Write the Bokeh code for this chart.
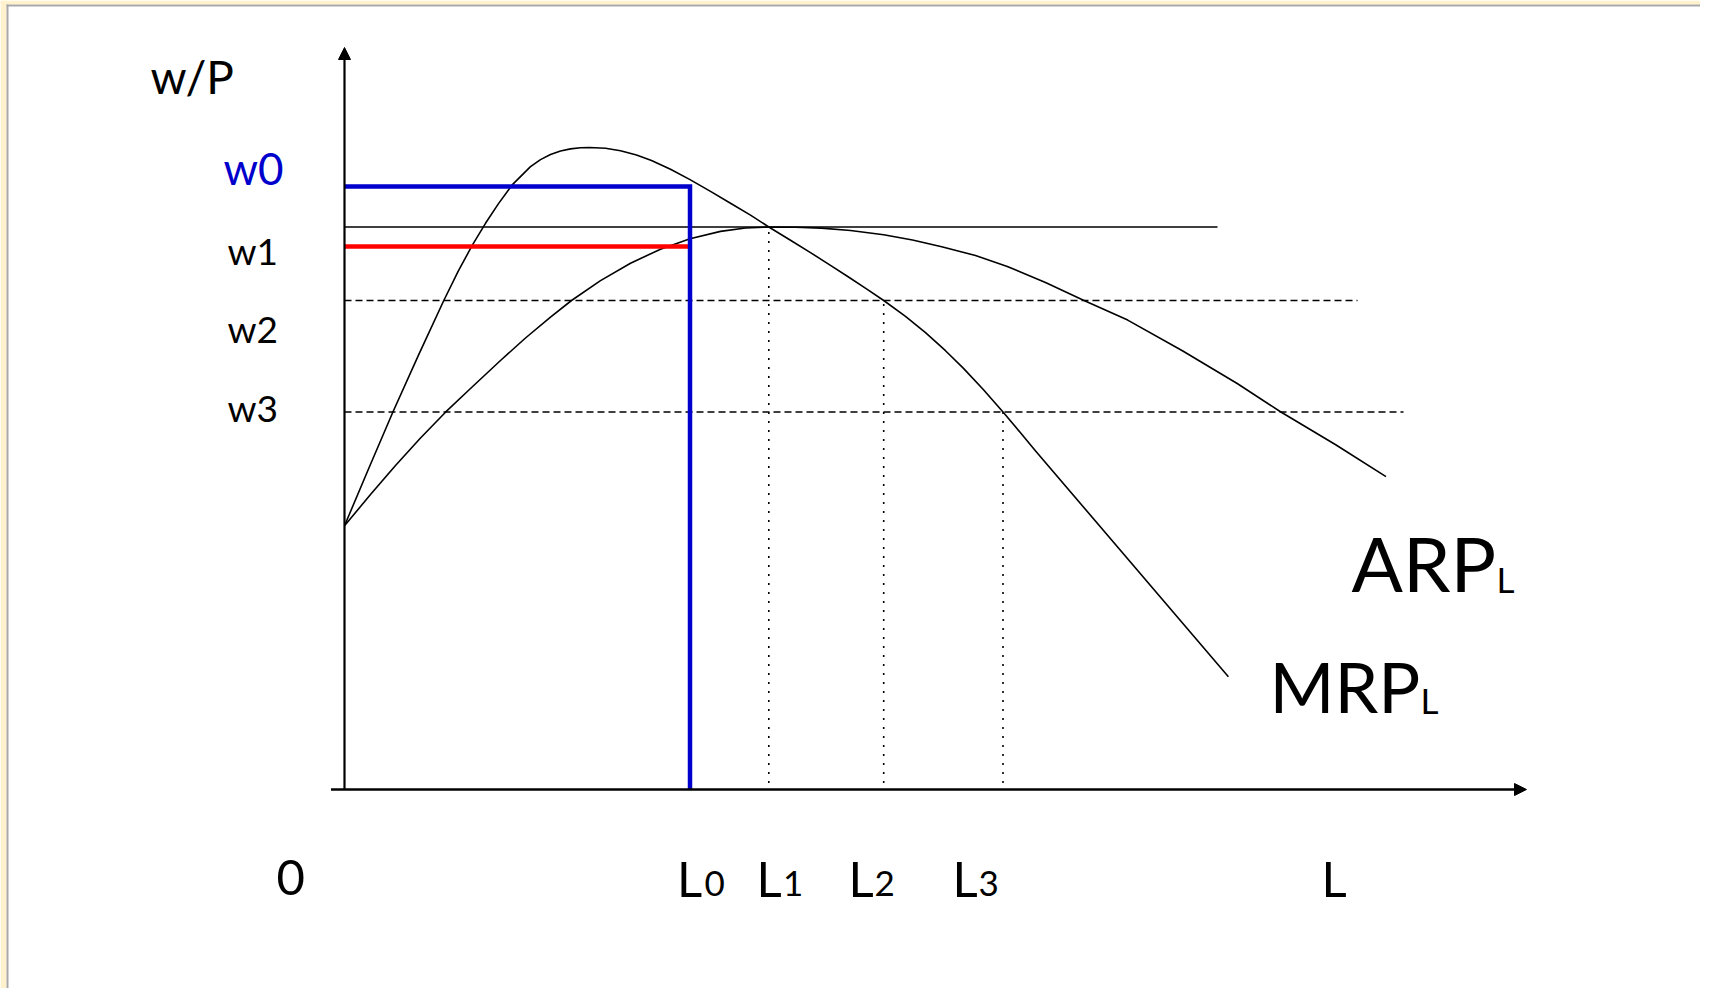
from bokeh.plotting import figure
from bokeh.models import Arrow, NormalHead, Range1d
from bokeh.core.properties import value
from bokeh.embed import file_html
from bokeh.resources import INLINE

# ---------------- data (L units horizontally, w/P units vertically) ---------------
# Marginal revenue product of labour (MRP_L)
mrp_L = [0.000, 0.240, 0.483, 0.740, 0.993, 1.140, 1.277, 1.410, 1.540, 1.677, 1.860, 1.960,
         2.060, 2.160, 2.260, 2.360, 2.450, 2.610, 2.760, 2.920, 3.070, 3.260, 3.455, 3.660,
         3.860, 4.060, 4.243, 4.460, 4.660, 4.860, 5.040, 5.220, 5.392, 5.610, 5.810, 6.010,
         6.190, 6.390, 6.585, 6.760, 6.913, 8.839]
mrp_w = [2.637, 3.205, 3.773, 4.343, 4.890, 5.188, 5.441, 5.662, 5.859, 6.046, 6.229, 6.299,
         6.350, 6.385, 6.406, 6.417, 6.420, 6.412, 6.388, 6.345, 6.289, 6.202, 6.099, 5.981,
         5.863, 5.744, 5.625, 5.493, 5.369, 5.241, 5.125, 5.006, 4.890, 4.732, 4.568, 4.388,
         4.211, 3.998, 3.775, 3.567, 3.383, 1.127]

# Average revenue product of labour (ARP_L)
arp_L = [0.000, 0.260, 0.510, 0.760, 1.010, 1.260, 1.560, 1.810, 2.060, 2.270, 2.560, 2.860,
         3.160, 3.455, 3.760, 4.010, 4.243, 4.510, 4.768, 5.060, 5.392, 5.680, 5.972, 6.310,
         6.628, 7.010, 7.395, 7.832, 8.379, 8.927, 9.364, 9.912, 10.415]
arp_w = [2.637, 2.950, 3.240, 3.515, 3.773, 4.010, 4.290, 4.515, 4.723, 4.890, 5.089, 5.263,
         5.403, 5.508, 5.581, 5.615, 5.625, 5.622, 5.614, 5.590, 5.548, 5.495, 5.428, 5.340,
         5.231, 5.070, 4.891, 4.694, 4.388, 4.060, 3.775, 3.447, 3.129]

# wage levels
w_labels = ["w0", "w1", "w2", "w3"]
w_levels = [6.03, 5.43, 4.89, 3.775]
w_peak = 5.625          # maximum of ARP_L (unlabelled solid line)

# labour quantities
L_names = ["L", "L", "L", "L"]
L_subs = ["0", "1", "2", "3"]
L_levels = [3.455, 4.243, 5.392, 6.585]

# line extents
peak_line_end = 8.73
w2_line_end = 10.13
w3_line_end = 10.59
x_axis_end = 11.82
y_axis_end = 7.42

# ---------------- figure ----------------
FONT = value("Lato")
X0, X1 = -3.44, 13.56
Y0, Y1 = -1.99, 7.89
p = figure(width=1700, height=988, x_range=Range1d(X0, X1), y_range=Range1d(Y0, Y1),
           output_backend="svg", toolbar_location=None,
           x_axis_location=None, y_axis_location=None, min_border=0)
p.grid.visible = False
p.outline_line_color = None
p.background_fill_color = "white"
p.border_fill_color = "white"

# slide frame: light yellow band with a gray edge on the left and top
p.quad(left=[X0, X0], right=[X0 + 0.06, X1], bottom=[Y0, Y1 - 0.04], top=[Y1, Y1],
       fill_color="#FFF2CC", line_color=None)
p.quad(left=[X0 + 0.06, X0 + 0.06], right=[X0 + 0.08, X1], bottom=[Y0, Y1 - 0.06],
       top=[Y1 - 0.04, Y1 - 0.04], fill_color="#A9A9A9", line_color=None)

# horizontal reference lines
p.line([0, peak_line_end], [w_peak, w_peak], line_color="black", line_width=1.4)
p.line([0, w2_line_end], [w_levels[2], w_levels[2]], line_color="black", line_width=1.4, line_dash="7 4")
p.line([0, w3_line_end], [w_levels[3], w_levels[3]], line_color="black", line_width=1.4, line_dash="7 4")

# dotted verticals at L1, L2, L3
dot_tops = [w_peak, w_levels[2], w_levels[3]]
for lx, top in zip(L_levels[1:], dot_tops):
    p.line([lx, lx], [0.065, top], line_color="black", line_width=1.6, line_dash="2 7")

# curves
p.line(arp_L, arp_w, line_color="black", line_width=1.6, line_join="round")
p.line(mrp_L, mrp_w, line_color="black", line_width=1.6, line_join="round")

# red w1 line and blue w0 / L0 lines
p.line([0, L_levels[0]], [w_levels[1], w_levels[1]], line_color="#FF0000", line_width=4.5)
p.line([0, L_levels[0], L_levels[0]], [w_levels[0], w_levels[0], 0], line_color="#0000CC",
       line_width=4.5, line_join="miter")

# axes with arrow heads
p.add_layout(Arrow(end=NormalHead(size=12, fill_color="black", line_color="black", line_width=1),
                   x_start=0, y_start=0, x_end=0, y_end=y_axis_end, line_width=2.2, line_color="black"))
p.add_layout(Arrow(end=NormalHead(size=12, fill_color="black", line_color="black", line_width=1),
                   x_start=-0.135, y_start=0, x_end=x_axis_end, y_end=0, line_width=2.6, line_color="black"))

# ---------------- text ----------------
BASE_FIX = 0.40  # em; compensates the svg renderer's baseline placement


def txt(xs, ys, s, size, color="black"):
    yy = [y + BASE_FIX * size / 100.0 for y in ys]
    p.text(x=xs, y=yy, text=s, text_font=FONT, text_font_size=f"{size}px", text_color=color,
           text_baseline="alphabetic", text_align="left")


txt([-1.94], [6.95], ["w/P"], 46)
txt([-1.21], [6.04], [w_labels[0]], 44, "#0000CC")
txt([-1.17, -1.17, -1.17], [5.24, 4.46, 3.67], w_labels[1:], 37)
txt([-0.68], [-1.08], ["0"], 49)

L_main_x = [3.325, 4.12, 5.04, 6.08]
L_sub_x = [3.60, 4.385, 5.30, 6.34]
txt(L_main_x, [-1.08] * 4, L_names, 49)
txt(L_sub_x, [-1.08] * 4, L_subs, 35)
txt([9.77], [-1.08], ["L"], 49)

txt([10.07], [1.97], ["ARP"], 76)
txt([11.52], [1.97], ["L"], 35)
txt([9.25], [0.755], ["MRP"], 70)
txt([10.76], [0.755], ["L"], 35)

open("out.html", "w").write(file_html(p, INLINE))
